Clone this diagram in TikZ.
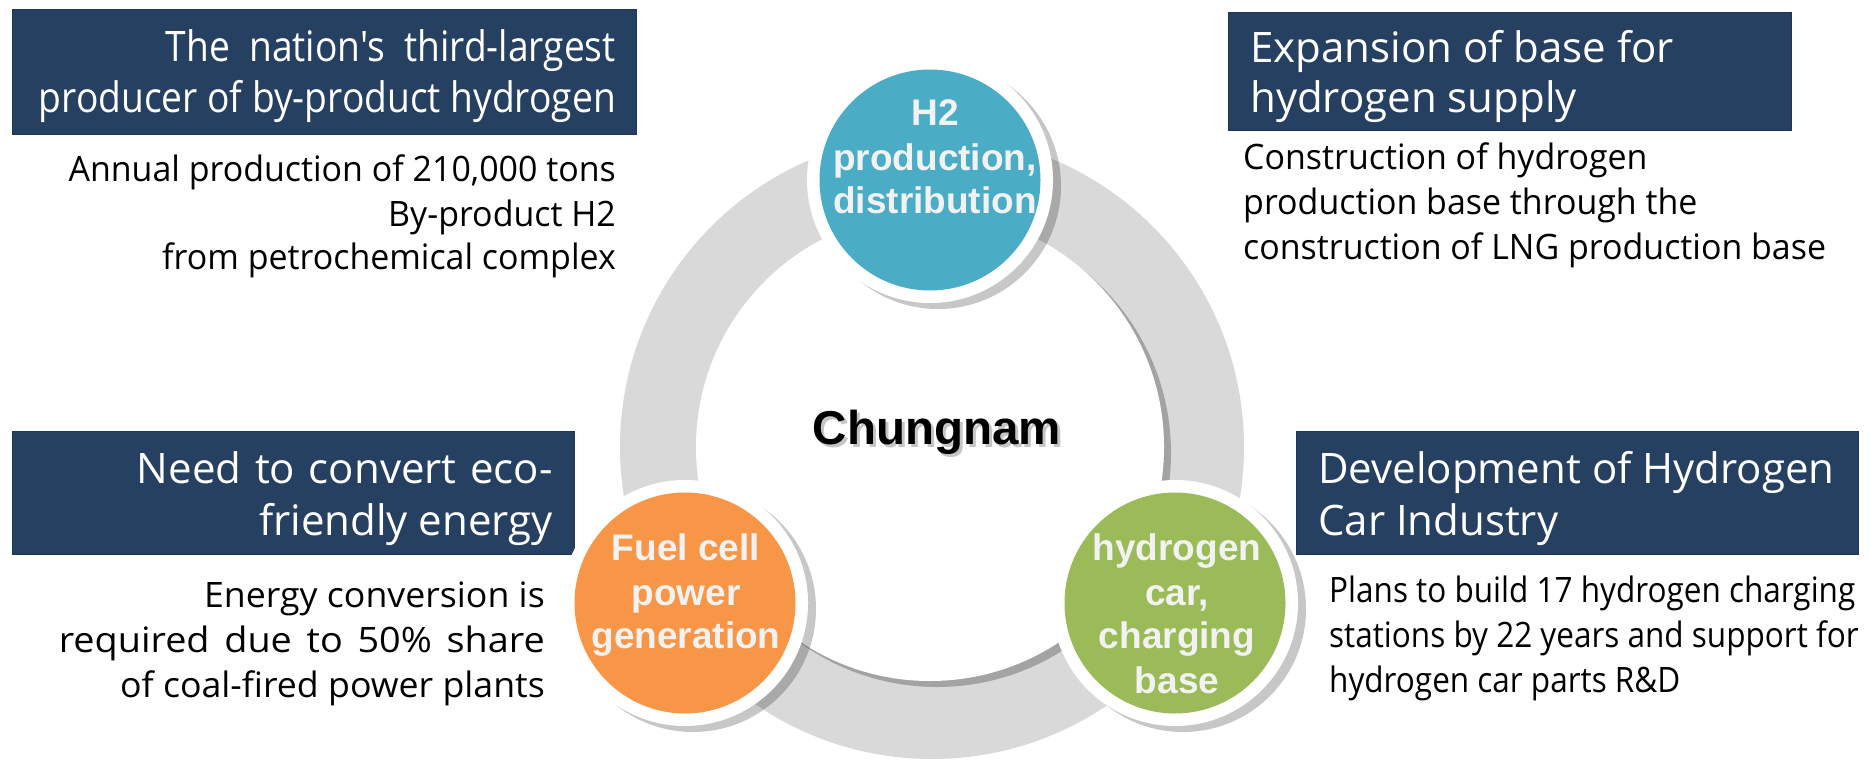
\documentclass[tikz,border=0pt]{standalone}
\usepackage{fontspec}
\setmainfont{Open Sans}
\newfontfamily\hdrA[FakeStretch=0.885]{Open Sans}
\newfontfamily\hdrB{Open Sans}
\newfontfamily\bodyA[FakeStretch=0.97]{Open Sans}
\newfontfamily\bodyB[FakeStretch=0.90]{Open Sans}
\newfontfamily\bodyC[FakeStretch=1.02]{Open Sans}
\newfontfamily\bodyD[FakeStretch=1.08]{Open Sans}
\newfontfamily\arialf{Liberation Sans}
\definecolor{navy}{HTML}{264062}
\definecolor{ringgray}{HTML}{D9D9D9}
\definecolor{ringshadow}{HTML}{A3A3A3}
\definecolor{cblue}{HTML}{4BACC6}
\definecolor{corange}{HTML}{F79646}
\definecolor{cgreen}{HTML}{9BBB59}
\definecolor{ctext}{HTML}{F2F2F2}
\tikzset{
  hdrbox/.style={fill=navy, draw=navy!85!black, line width=0.8pt, anchor=north west, inner sep=0, rectangle},
  hdrline/.style={text=white, inner sep=0},
  bodyline/.style={text=black, inner sep=0},
  circtext/.style={text=ctext, inner sep=0, anchor=base, font=\arialf\bfseries\fontsize{37}{43}\selectfont},
  ball/.style={circle, inner sep=0, minimum size=221pt},
  ballshadow/.style={fill=black, fill opacity=0.22},
}
\begin{document}
\begin{tikzpicture}[x=1pt,y=-1pt]
\useasboundingbox (0,0) rectangle (1870,760);
\fill[white] (0,0) rectangle (1870,760);
% ring
\fill[ringgray] (932,447) circle (312);
\fill[ringshadow] (937,453) circle (234);
\fill[white] (930,447) circle (234);
% header boxes
\node[hdrbox, minimum width=624pt, minimum height=125pt] (b1) at (12,9) {};
\node[hdrbox, minimum width=563pt, minimum height=118pt] (b2) at (1228,12) {};
\node[hdrbox, minimum width=562pt, minimum height=123pt] (b3) at (12,431) {};
\node[hdrbox, minimum width=562pt, minimum height=123pt] (b4) at (1296,431) {};
% header texts
\begin{scope}[every node/.append style={hdrline}]
\node[anchor=base east, font=\hdrA\fontsize{42}{50}\selectfont] (h1a) at (616,62) {\hbox to 450pt{The\hfill nation's\hfill third-largest}};
\node[anchor=base east, font=\hdrA\fontsize{42}{50}\selectfont] (h1b) at (616,112) {producer of by-product hydrogen};
\node[anchor=base west, font=\hdrB\fontsize{42}{50}\selectfont] (h2a) at (1250,63) {Expansion of base for};
\node[anchor=base west, font=\hdrB\fontsize{42}{50}\selectfont] (h2b) at (1250,112) {hydrogen supply};
\node[anchor=base east, font=\hdrB\fontsize{42}{50}\selectfont] (h3a) at (553,483) {\hbox to 416pt{Need\hfill to\hfill convert\hfill eco-}};
\node[anchor=base east, font=\hdrB\fontsize{42}{50}\selectfont] (h3b) at (553,535) {friendly energy};
\node[anchor=base west, font=\hdrB\fontsize{42}{50}\selectfont] (h4a) at (1318,483) {Development of Hydrogen};
\node[anchor=base west, font=\hdrB\fontsize{42}{50}\selectfont] (h4b) at (1318,535) {Car Industry};
\end{scope}
% body texts
\begin{scope}[every node/.append style={bodyline}]
\node[anchor=base east, font=\bodyA\fontsize{35}{44}\selectfont] (t1a) at (616,181) {Annual production of 210,000 tons};
\node[anchor=base east, font=\bodyA\fontsize{35}{44}\selectfont] (t1b) at (616,226) {By-product H2};
\node[anchor=base east, font=\bodyA\fontsize{35}{44}\selectfont] (t1c) at (616,269) {from petrochemical complex};
\node[anchor=base west, font=\bodyA\fontsize{35}{44}\selectfont] (t2a) at (1243,169) {Construction of hydrogen};
\node[anchor=base west, font=\bodyA\fontsize{35}{44}\selectfont] (t2b) at (1243,214) {production base through the};
\node[anchor=base west, font=\bodyA\fontsize{35}{44}\selectfont] (t2c) at (1243,259) {construction of LNG production base};
\node[anchor=base east, font=\bodyC\fontsize{35}{44}\selectfont] (t3a) at (545,607) {Energy conversion is};
\node[anchor=base east, font=\bodyD\fontsize{35}{44}\selectfont] (t3b) at (545,652) {\hbox to 486pt{required\hfill due\hfill to\hfill 50\%\hfill share}};
\node[anchor=base east, font=\bodyC\fontsize{35}{44}\selectfont] (t3c) at (545,697) {of coal-fired power plants};
\node[anchor=base west, font=\bodyB\fontsize{35}{44}\selectfont] (t4a) at (1329,602) {Plans to build 17 hydrogen charging};
\node[anchor=base west, font=\bodyB\fontsize{35}{44}\selectfont] (t4b) at (1329,647) {stations by 22 years and support for};
\node[anchor=base west, font=\bodyB\fontsize{35}{44}\selectfont] (t4c) at (1329,692) {hydrogen car parts R\&D};
\end{scope}
% circles
\fill[ballshadow] (938,186) circle (123);
\fill[white] (930,180) circle (123);
\node[ball, fill=cblue] (cb) at (930,180) {};
\fill[ballshadow] (693,609) circle (123);
\fill[white] (685,603) circle (123);
\node[ball, fill=corange] (co) at (685,603) {};
\fill[ballshadow] (1183,609) circle (123);
\fill[white] (1175,603) circle (123);
\node[ball, fill=cgreen] (cg) at (1175,603) {};
% circle texts
\node[circtext] (cb1) at (935,125) {H2};
\node[circtext] (cb2) at (935,170) {production,};
\node[circtext] (cb3) at (935,213) {distribution};
\node[circtext] (co1) at (686,560) {Fuel cell};
\node[circtext] (co2) at (686,605) {power};
\node[circtext] (co3) at (686,648) {generation};
\node[circtext] (cg1) at (1177,560) {hydrogen};
\node[circtext] (cg2) at (1177,605) {car,};
\node[circtext] (cg3) at (1177,648) {charging};
\node[circtext] (cg4) at (1177,693) {base};
% centre label
\node[anchor=base, inner sep=0, text=black!45, opacity=0.5, font=\arialf\bfseries\fontsize{47.5}{55}\selectfont] (cnshadow) at (940,447) {Chungnam};
\node[anchor=base, inner sep=0, text=black, font=\arialf\bfseries\fontsize{47.5}{55}\selectfont] (cn) at (937,444) {Chungnam};
\end{tikzpicture}
\end{document}
